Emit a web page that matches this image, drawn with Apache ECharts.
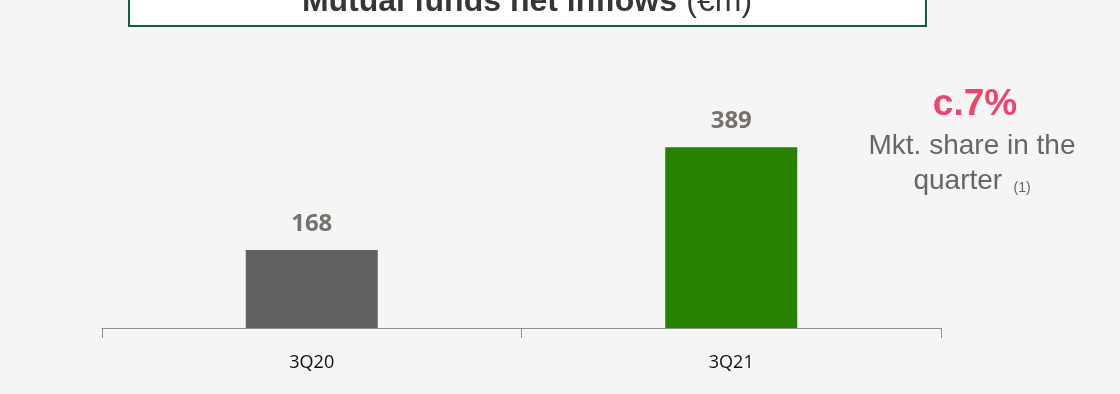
<!DOCTYPE html>
<html>
<head>
<meta charset="utf-8">
<script src="https://cdn.jsdelivr.net/npm/echarts@6/dist/echarts.min.js"></script>
<style>
  html, body { margin: 0; padding: 0; background: #f5f5f5; }
  #chart { width: 1120px; height: 394px; }
</style>
</head>
<body>
<div id="chart"></div>
<script>
// Mutual funds net inflows by quarter (€m)
const categories = ['3Q20', '3Q21'];
const inflows = [168, 389];
const barColors = ['#61615f', '#268200'];

const chart = echarts.init(document.getElementById('chart'));

chart.setOption({
  backgroundColor: '#f5f5f5',
  animation: false,
  grid: { left: 102, right: 179, top: 40, bottom: 66 },
  xAxis: {
    type: 'category',
    data: categories,
    axisLine: { lineStyle: { color: '#8c8c8c', width: 1 } },
    axisTick: { show: true, length: 10, lineStyle: { color: '#8c8c8c' } },
    axisLabel: {
      color: '#111',
      fontFamily: 'Open Sans',
      fontSize: 18,
      margin: 26
    }
  },
  yAxis: {
    type: 'value',
    min: 0,
    max: 620,
    show: false,
    splitLine: { show: false }
  },
  series: [{
    type: 'bar',
    data: inflows.map((v, i) => ({ value: v, itemStyle: { color: barColors[i] } })),
    barWidth: 132,
    label: {
      show: true,
      position: 'top',
      distance: 14,
      color: '#77716b',
      fontFamily: 'Open Sans',
      fontWeight: 'bold',
      fontSize: 24
    }
  }],
  graphic: [
    {
      type: 'rect',
      shape: { x: 129, y: -20, width: 797, height: 46 },
      style: { fill: '#ffffff', stroke: '#0e5f3e', lineWidth: 2 }
    },
    {
      type: 'text',
      x: 527,
      y: 2,
      style: {
        rich: {
          b: { fontFamily: 'Liberation Sans', fontWeight: 'bold', fontSize: 32, fill: '#363636' },
          n: { fontFamily: 'Liberation Sans', fontSize: 32, fill: '#363636', padding: [0, 0, 0, 6] }
        },
        text: '{b|Mutual funds net inflows} {n|(€m)}',
        align: 'center',
        verticalAlign: 'middle'
      }
    },
    {
      type: 'text',
      x: 975,
      y: 105,
      style: {
        text: 'c.7%',
        fontFamily: 'Liberation Sans',
        fontWeight: 'bold',
        fontSize: 37,
        fill: '#f2436d',
        align: 'center',
        verticalAlign: 'middle'
      }
    },
    {
      type: 'text',
      x: 972,
      y: 146,
      style: {
        text: 'Mkt. share in the',
        fontFamily: 'Liberation Sans',
        fontSize: 28,
        fill: '#666666',
        align: 'center',
        verticalAlign: 'middle'
      }
    },
    {
      type: 'text',
      x: 972,
      y: 181,
      style: {
        rich: {
          a: { fontFamily: 'Liberation Sans', fontSize: 28, fill: '#666666' },
          s: { fontFamily: 'Liberation Sans', fontSize: 14, fill: '#666666', padding: [14, 0, 0, 8] }
        },
        text: '{a|quarter} {s|(1)}',
        align: 'center',
        verticalAlign: 'middle'
      }
    }
  ]
});
</script>
</body>
</html>
